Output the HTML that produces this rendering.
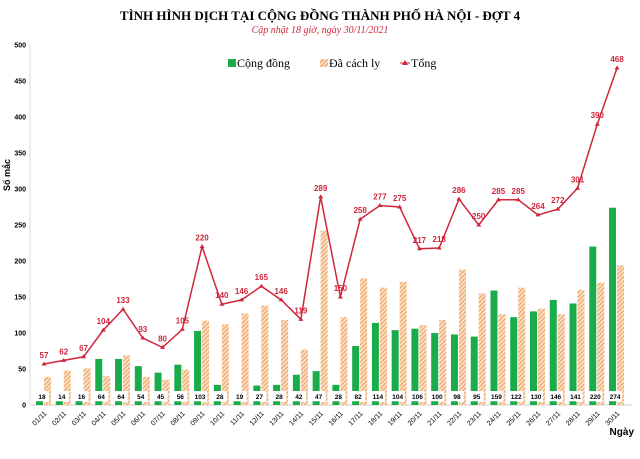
<!DOCTYPE html>
<html><head><meta charset="utf-8"><style>
body{margin:0;background:#fff;}
text{font-family:"Liberation Sans",sans-serif;}
.s{font-family:"Liberation Serif",serif;}
</style></head><body>
<svg width="640" height="454" xmlns="http://www.w3.org/2000/svg" id="c">
<defs><pattern id="h" width="3" height="3" patternUnits="userSpaceOnUse" patternTransform="rotate(45)"><rect width="3" height="3" fill="#fbe3cc"/><rect width="1.3" height="3" fill="#f0a868"/></pattern></defs>
<rect width="640" height="454" fill="#fff"/>
<text x="320" y="20" text-anchor="middle" class="s" font-weight="bold" font-size="13">TÌNH HÌNH DỊCH TẠI CỘNG ĐỒNG THÀNH PHỐ HÀ NỘI - ĐỢT 4</text>
<text x="320" y="33" text-anchor="middle" class="s" font-style="italic" font-size="10" fill="#d0263a">Cập nhật 18 giờ, ngày 30/11/2021</text>
<g class="s" font-size="12">
<rect x="228" y="59" width="8" height="8" fill="#1aab4b"/><text x="237" y="67" class="s">Cộng đồng</text>
<rect x="320" y="59" width="8" height="8" fill="url(#h)"/><text x="329" y="67" class="s">Đã cách ly</text>
<line x1="400" y1="63" x2="410" y2="63" stroke="#d0263a"/><path d="M405 60l3 5h-6z" fill="#d0263a"/><text x="411" y="67" class="s">Tổng</text>
</g>
<line x1="30" y1="45" x2="30" y2="405" stroke="#ddd"/>
<line x1="30" y1="405" x2="632" y2="405" stroke="#ccc"/>
<g font-size="7" font-weight="bold" text-anchor="end" id="yl"></g>
<text transform="translate(10,175) rotate(-90)" font-size="9" font-weight="bold" text-anchor="middle">Số mắc</text>
<text x="634" y="435" font-size="10" font-weight="bold" text-anchor="end">Ngày</text>
<g id="bars"></g>
</svg>
<script>
var c=[18,14,16,64,64,54,45,56,103,28,19,27,28,42,47,28,82,114,104,106,100,98,95,159,122,130,146,141,220,274];
var t=[57,62,67,104,133,93,80,105,220,140,146,165,146,119,289,150,258,277,275,217,218,286,250,285,285,264,272,301,390,468];
var ns="http://www.w3.org/2000/svg",g=document.getElementById('bars'),yl=document.getElementById('yl');
function el(n,a,p,tx){var e=document.createElementNS(ns,n);for(var k in a)e.setAttribute(k,a[k]);if(tx!==undefined)e.textContent=tx;(p||g).appendChild(e);return e;}
function Y(v){return 405-v*0.72;}
for(var v=0;v<=500;v+=50)el('text',{x:26,y:Y(v)+2.5},yl,v);
var pts=[];
for(var i=0;i<30;i++){var x=44+i*19.76,iso=t[i]-c[i];
el('rect',{x:x-8,y:Y(c[i]),width:7,height:c[i]*0.72,fill:'#1aab4b'});
el('rect',{x:x,y:Y(iso),width:7,height:iso*0.72,fill:'url(#h)'});
el('rect',{x:x-9,y:391,width:14,height:11,fill:'#fff'});
el('line',{x1:x-8,y1:402,x2:x-1,y2:402,stroke:'#1aab4b','stroke-width':1.5});
el('text',{x:x-2,y:399,'font-size':6.5,'font-weight':'bold','text-anchor':'middle'},g,c[i]);
var d=(i+1<10?'0':'')+(i+1)+'/11';
el('text',{transform:'translate('+(x+3)+',414) rotate(-45)','font-size':7,'text-anchor':'end'},g,d);
pts.push(x+','+Y(t[i]));
}
el('polyline',{points:pts.join(' '),fill:'none',stroke:'#d0263a','stroke-width':1.5});
for(var i=0;i<30;i++){var x=44+i*19.76,y=Y(t[i]);
el('path',{d:'M'+x+' '+(y-2.5)+'l2.5 4h-5z',fill:'#d0263a'});
el('text',{x:x,y:y-6,'font-size':8,'font-weight':'bold',fill:'#d0263a','text-anchor':'middle'},g,t[i]);}
</script>
</body></html>
